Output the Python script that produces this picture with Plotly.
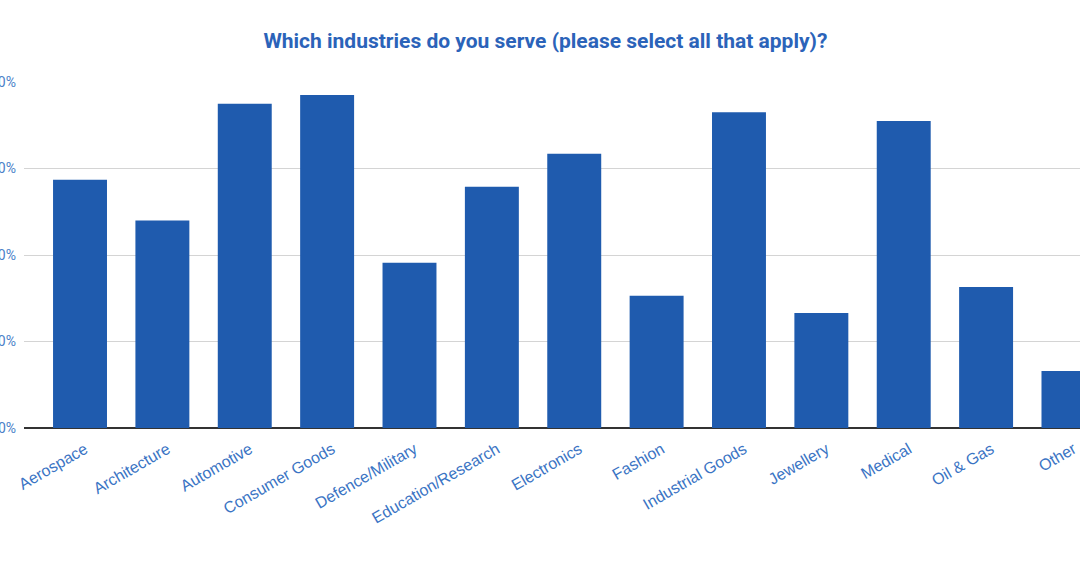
import plotly.graph_objects as go

categories = ["Aerospace", "Architecture", "Automotive", "Consumer Goods", "Defence/Military",
              "Education/Research", "Electronics", "Fashion", "Industrial Goods", "Jewellery",
              "Medical", "Oil & Gas", "Other"]
values = [28.7, 24.0, 37.5, 38.5, 19.1, 27.9, 31.7, 15.3, 36.5, 13.3, 35.5, 16.3, 6.6]
tick_vals = [0, 10, 20, 30, 40]
tick_text = ["0%", "10%", "20%", "30%", "40%"]
title = "Which industries do you serve (please select all that apply)?"

fig = go.Figure(go.Bar(x=list(range(len(categories))), y=values, marker_color="#1f5bae",
                       marker_line_width=0))

fig.update_layout(
    width=1080, height=577,
    margin=dict(l=24, r=0, t=82, b=149),
    paper_bgcolor="white", plot_bgcolor="white",
    bargap=0.345,
    showlegend=False,
    title=dict(text="<b>" + title + "</b>", x=0.505, xanchor="center", y=0.93, yanchor="middle",
               font=dict(family="Roboto", size=21, color="#2b63b9")),
)
fig.update_xaxes(
    range=[-0.68, 12.14], tickmode="array", tickvals=list(range(len(categories))),
    ticktext=categories, tickangle=-30, showgrid=False, showline=False, ticks="",
    ticklabelstandoff=8, ticklabelshift=5,
    tickfont=dict(family="Liberation Sans, Arial", size=16, color="#3a74c4"),
    automargin=False,
)
fig.update_yaxes(
    range=[0, 40], tickmode="array", tickvals=tick_vals, ticktext=tick_text,
    showgrid=True, gridcolor="#d4d4d4", gridwidth=1,
    zeroline=True, zerolinecolor="#333333", zerolinewidth=1.5,
    showline=False, ticks="", ticklabelstandoff=7,
    tickfont=dict(family="Roboto", size=14, color="#4a7fc8"),
    automargin=False,
)
fig.write_html("out.html")
